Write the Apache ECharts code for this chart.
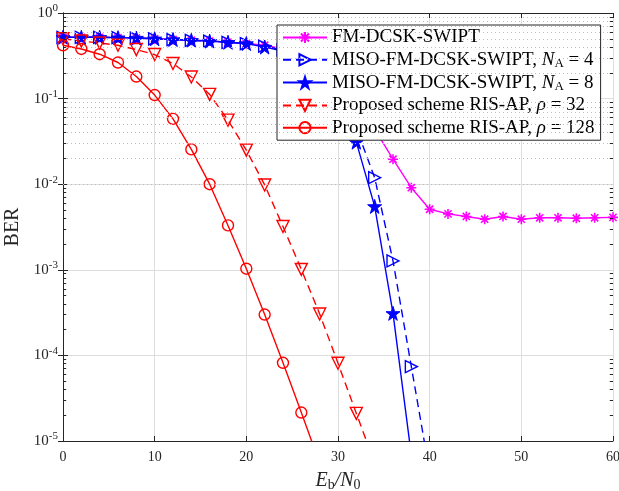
<!DOCTYPE html>
<html>
<head>
<meta charset="utf-8">
<script src="https://cdn.jsdelivr.net/npm/echarts@6/dist/echarts.min.js"></script>
<style>
html,body{margin:0;padding:0;background:#fff;}
#chart{width:619px;height:491px;}
</style>
</head>
<body>
<div id="chart"></div>
<script>
// Eb/N0 grid (dB)
const snr = [0,2,4,6,8,10,12,14,16,18,20,22,24,26,28,30,32,34,36,38,40,42,44,46,48,50,52,54,56,58,60];

const seriesNames = [
  'FM-DCSK-SWIPT',
  'MISO-FM-DCSK-SWIPT, NA = 4',
  'MISO-FM-DCSK-SWIPT, NA = 8',
  'Proposed scheme RIS-AP, rho = 32',
  'Proposed scheme RIS-AP, rho = 128'
];

const berFM = [0.52,0.52,0.52,0.515,0.51,0.50,0.49,0.48,0.47,0.455,0.44,0.42,0.38,0.31,0.23,0.15,0.085,0.044,0.0196,0.0091,0.0051,0.0045,0.0042,0.0039,0.0042,0.0039,0.00405,0.00405,0.0040,0.00405,0.0041];
const berNA4 = [0.52,0.52,0.52,0.515,0.51,0.50,0.49,0.48,0.47,0.455,0.44,0.41,0.37,0.31,0.23,0.12,0.045,0.0119,0.00127,0.000074,0.0000043];
const berNA8 = [0.52,0.52,0.52,0.515,0.51,0.50,0.49,0.48,0.47,0.455,0.44,0.40,0.36,0.30,0.21,0.10,0.031,0.0055,0.00031,0.0000068];
const berRho32 = [0.50,0.47,0.447,0.42,0.374,0.327,0.257,0.179,0.112,0.056,0.025,0.0098,0.0032,0.00101,0.000305,0.000081,0.000021,0.0000055];
const berRho128 = [0.42,0.38,0.33,0.264,0.181,0.11,0.058,0.0255,0.01,0.0033,0.00103,0.0003,0.000082,0.0000215,0.0000055];

const xTicks = [0,10,20,30,40,50,60];
const yDecades = [1e-5,1e-4,1e-3,1e-2,1e-1,1];

const FONT = 'Liberation Serif';
const AX = '#262626';

function pairs(vals){ return vals.map((v,i)=>[snr[i], v]); }

// minor log grid values 2..9 x 10^k
const minorVals = [];
for (let k=-5;k<0;k++){ for(let m=2;m<=9;m++){ minorVals.push(m*Math.pow(10,k)); } }

const asterisk = 'path://M0,-1L0,1M-1,0L1,0M-0.72,-0.72L0.72,0.72M-0.72,0.72L0.72,-0.72';
const star = 'path://M0,-1L0.2245,-0.309L0.951,-0.309L0.363,0.118L0.588,0.809L0,0.382L-0.588,0.809L-0.363,0.118L-0.951,-0.309L-0.2245,-0.309Z';

const legendRich = {
  t:{fontFamily:FONT,fontSize:19,lineHeight:20,color:'#000'},
  i:{fontFamily:FONT,fontSize:19,lineHeight:20,fontStyle:'italic',color:'#000'},
  s:{fontFamily:FONT,fontSize:13,lineHeight:12,verticalAlign:'bottom',color:'#000'}
};
const legendLabels = {};
legendLabels[seriesNames[0]] = '{t|FM-DCSK-SWIPT}';
legendLabels[seriesNames[1]] = '{t|MISO-FM-DCSK-SWIPT, }{i|N}{s|A}{t| = 4}';
legendLabels[seriesNames[2]] = '{t|MISO-FM-DCSK-SWIPT, }{i|N}{s|A}{t| = 8}';
legendLabels[seriesNames[3]] = '{t|Proposed scheme RIS-AP, }{i|ρ}{t| = 32}';
legendLabels[seriesNames[4]] = '{t|Proposed scheme RIS-AP, }{i|ρ}{t| = 128}';

const chart = echarts.init(document.getElementById('chart'), null, {renderer:'canvas'});

const tickMarks = [];
minorVals.forEach(v=>{
  tickMarks.push([{coord:[0,v]},{coord:[0.35,v]}]);
  tickMarks.push([{coord:[60,v]},{coord:[59.65,v]}]);
});

chart.setOption({
  animation:false,
  backgroundColor:'#fff',
  grid:{left:63,right:6,top:13,bottom:50,containLabel:false,outerBoundsMode:'none'},
  legend:{
    data:seriesNames,
    left:277, top:25,
    orient:'vertical',
    backgroundColor:'#fff',
    borderColor:AX, borderWidth:1,
    padding:[3,6,3,5],
    itemGap:3.3,
    itemWidth:44, itemHeight:14,
    formatter:(n)=>legendLabels[n],
    textStyle:{rich:legendRich, fontFamily:FONT, fontSize:19},
    selectedMode:false
  },
  xAxis:[{
    type:'value', min:0, max:60, interval:10,
    name:'{i|E}{s|b}{i|/N}{s|0}', nameLocation:'middle', nameGap:29,
    nameTextStyle:{rich:{
      i:{fontFamily:FONT,fontSize:20,fontStyle:'italic',lineHeight:22,color:AX},
      s:{fontFamily:FONT,fontSize:14,lineHeight:12,verticalAlign:'bottom',color:AX}
    }},
    axisLine:{show:true,lineStyle:{color:AX,width:1}},
    axisTick:{show:true,inside:true,length:5,lineStyle:{color:AX}},
    axisLabel:{fontFamily:FONT,fontSize:14,color:AX,margin:9},
    splitLine:{show:true,lineStyle:{color:'#dedede',width:1}}
  },{
    type:'value', min:0, max:60, interval:10, position:'top',
    axisLine:{show:true,lineStyle:{color:AX,width:1}},
    axisTick:{show:true,inside:true,length:5,lineStyle:{color:AX}},
    axisLabel:{show:false}, splitLine:{show:false}
  }],
  yAxis:[{
    type:'log', logBase:10, min:1e-5, max:1,
    name:'BER', nameLocation:'middle', nameGap:31,
    nameTextStyle:{fontFamily:FONT,fontSize:20,color:AX},
    axisLine:{show:true,lineStyle:{color:AX,width:1}},
    axisTick:{show:true,inside:true,length:5,lineStyle:{color:AX}},
    axisLabel:{
      margin:5,
      formatter:(v)=>'{b|10}{e|'+Math.round(Math.log10(v))+'}',
      rich:{
        b:{fontFamily:FONT,fontSize:15,lineHeight:20,color:AX},
        e:{fontFamily:FONT,fontSize:11,lineHeight:10,verticalAlign:'top',color:AX}
      }
    },
    splitLine:{show:true,lineStyle:{color:'#dedede',width:1}}
  },{
    type:'log', logBase:10, min:1e-5, max:1, position:'right',
    axisLine:{show:true,lineStyle:{color:AX,width:1}},
    axisTick:{show:true,inside:true,length:5,lineStyle:{color:AX}},
    axisLabel:{show:false}, splitLine:{show:false}
  }],
  series:[
    {
      name:'grid-minor', type:'line', data:[], silent:true,
      markLine:{
        silent:true, symbol:['none','none'], label:{show:false},
        lineStyle:{type:[1,3],color:'#bdbdbd',width:1},
        emphasis:{disabled:true},
        data:minorVals.map(v=>({yAxis:v}))
      }
    },
    {
      name:'ticks-minor', type:'line', data:[], silent:true,
      markLine:{
        silent:true, symbol:['none','none'], label:{show:false},
        lineStyle:{type:'solid',color:AX,width:1},
        emphasis:{disabled:true},
        data:tickMarks
      }
    },
    {
      name:seriesNames[0], type:'line', data:pairs(berFM),
      symbol:asterisk, symbolSize:10,
      lineStyle:{color:'#ff00ff',width:1.4},
      itemStyle:{color:'#ff00ff',borderColor:'#ff00ff',borderWidth:1.6}
    },
    {
      name:seriesNames[1], type:'line', data:pairs(berNA4),
      symbol:'triangle', symbolRotate:-90, symbolSize:12,
      lineStyle:{color:'#0000ff',width:1.4,type:[8,5]},
      itemStyle:{color:'rgba(0,0,0,0)',borderColor:'#0000ff',borderWidth:1.4}
    },
    {
      name:seriesNames[2], type:'line', data:pairs(berNA8),
      symbol:star, symbolSize:14,
      lineStyle:{color:'#0000ff',width:1.4},
      itemStyle:{color:'#0000ff',borderColor:'#0000ff',borderWidth:1}
    },
    {
      name:seriesNames[3], type:'line', data:pairs(berRho32),
      symbol:'triangle', symbolRotate:180, symbolSize:12,
      lineStyle:{color:'#ff0000',width:1.4,type:[8,5]},
      itemStyle:{color:'rgba(0,0,0,0)',borderColor:'#ff0000',borderWidth:1.4}
    },
    {
      name:seriesNames[4], type:'line', data:pairs(berRho128),
      symbol:'circle', symbolSize:11,
      lineStyle:{color:'#ff0000',width:1.4},
      itemStyle:{color:'rgba(0,0,0,0)',borderColor:'#ff0000',borderWidth:1.4}
    }
  ]
});
</script>
</body>
</html>
